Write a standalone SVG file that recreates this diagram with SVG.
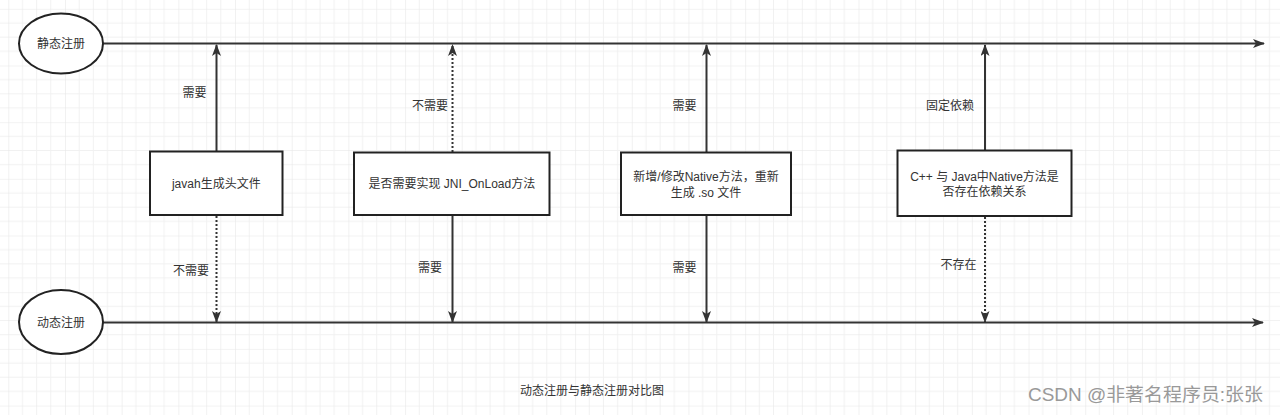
<svg xmlns="http://www.w3.org/2000/svg" width="1280" height="415" viewBox="0 0 1280 415">
<defs>
<pattern id="grid" x="8.3" y="8.8" width="56.68" height="56.68" patternUnits="userSpaceOnUse">
<path d="M14.17,0V56.68M28.34,0V56.68M42.51,0V56.68M0,14.17H56.68M0,28.34H56.68M0,42.51H56.68" stroke="#f1f1f1" stroke-width="1" fill="none"/>
<path d="M0,0V56.68M0,0H56.68" stroke="#e8e8e8" stroke-width="1.2" fill="none"/>
</pattern>
<marker id="arr" viewBox="0 0 12 9" refX="11" refY="4.5" markerWidth="12" markerHeight="9" markerUnits="userSpaceOnUse" orient="auto">
<path d="M0,0 L12,4.5 L0,9 L3,4.5 Z" fill="#333"/>
</marker>
</defs>
<style>
.t{font-family:"Liberation Sans","Noto Sans CJK SC",sans-serif;font-size:12px;fill:#333;text-anchor:middle;dominant-baseline:central}
.box{fill:#fff;stroke:#222;stroke-width:2}
.ell{fill:#fff;stroke:#222;stroke-width:2}
.ln{stroke:#333;stroke-width:2;fill:none}
.dot{stroke:#333;stroke-width:2;fill:none;stroke-dasharray:2 2}
</style>
<rect width="1280" height="415" fill="#fff"/>
<rect width="1280" height="415" fill="url(#grid)"/>
<g id="connectors">
<line class="ln" x1="103" y1="43.5" x2="1264" y2="43.5" marker-end="url(#arr)"/>
<line class="ln" x1="103" y1="322.5" x2="1263" y2="322.5" marker-end="url(#arr)"/>
<line class="ln" x1="216.5" y1="151" x2="216.5" y2="45" marker-end="url(#arr)"/>
<line class="dot" x1="216.5" y1="216" x2="216.5" y2="322" marker-end="url(#arr)"/>
<line class="dot" x1="452.5" y1="152" x2="452.5" y2="45" marker-end="url(#arr)"/>
<line class="ln" x1="452.5" y1="216" x2="452.5" y2="322" marker-end="url(#arr)"/>
<line class="ln" x1="706.5" y1="152" x2="706.5" y2="45" marker-end="url(#arr)"/>
<line class="ln" x1="706.5" y1="216" x2="706.5" y2="322" marker-end="url(#arr)"/>
<line class="ln" x1="985" y1="150" x2="985" y2="45" marker-end="url(#arr)"/>
<line class="dot" x1="985" y1="217" x2="985" y2="322" marker-end="url(#arr)"/>
<text class="t" x="194.5" y="93">需要</text>
<text class="t" x="430" y="106">不需要</text>
<text class="t" x="684.5" y="106">需要</text>
<text class="t" x="950" y="106">固定依赖</text>
<text class="t" x="191" y="271">不需要</text>
<text class="t" x="430" y="268">需要</text>
<text class="t" x="684.5" y="268">需要</text>
<text class="t" x="958.5" y="265">不存在</text>
</g>
<g id="static-reg">
<ellipse class="ell" cx="61" cy="43.5" rx="42" ry="30"/>
<text class="t" x="61" y="44">静态注册</text>
</g>
<g id="dynamic-reg">
<ellipse class="ell" cx="61" cy="322" rx="42" ry="32"/>
<text class="t" x="61" y="323">动态注册</text>
</g>
<g id="javah">
<rect class="box" x="150" y="151.5" width="132.5" height="63.5"/>
<text class="t" x="216.3" y="184">javah生成头文件</text>
</g>
<g id="jni-onload">
<rect class="box" x="354" y="152.5" width="195.5" height="62.5"/>
<text class="t" x="451.8" y="184">是否需要实现 JNI_OnLoad方法</text>
</g>
<g id="native-so">
<rect class="box" x="621" y="152.5" width="170" height="62.5"/>
<text class="t" x="706" y="177">新增/修改Native方法，重新</text>
<text class="t" x="706" y="193">生成 .so 文件</text>
</g>
<g id="dependency">
<rect class="box" x="897.5" y="150.5" width="174" height="65.5"/>
<text class="t" x="984.5" y="177">C++ 与 Java中Native方法是</text>
<text class="t" x="984.5" y="192">否存在依赖关系</text>
</g>
<g id="caption">
<text class="t" x="592" y="391">动态注册与静态注册对比图</text>
</g>
<g id="watermark">
<text x="1028" y="395" textLength="235" lengthAdjust="spacingAndGlyphs" style="font-family:'Liberation Sans','Noto Sans CJK SC',sans-serif;font-size:18px;fill:#999;dominant-baseline:central">CSDN @非著名程序员:张张</text>
</g>
</svg>
